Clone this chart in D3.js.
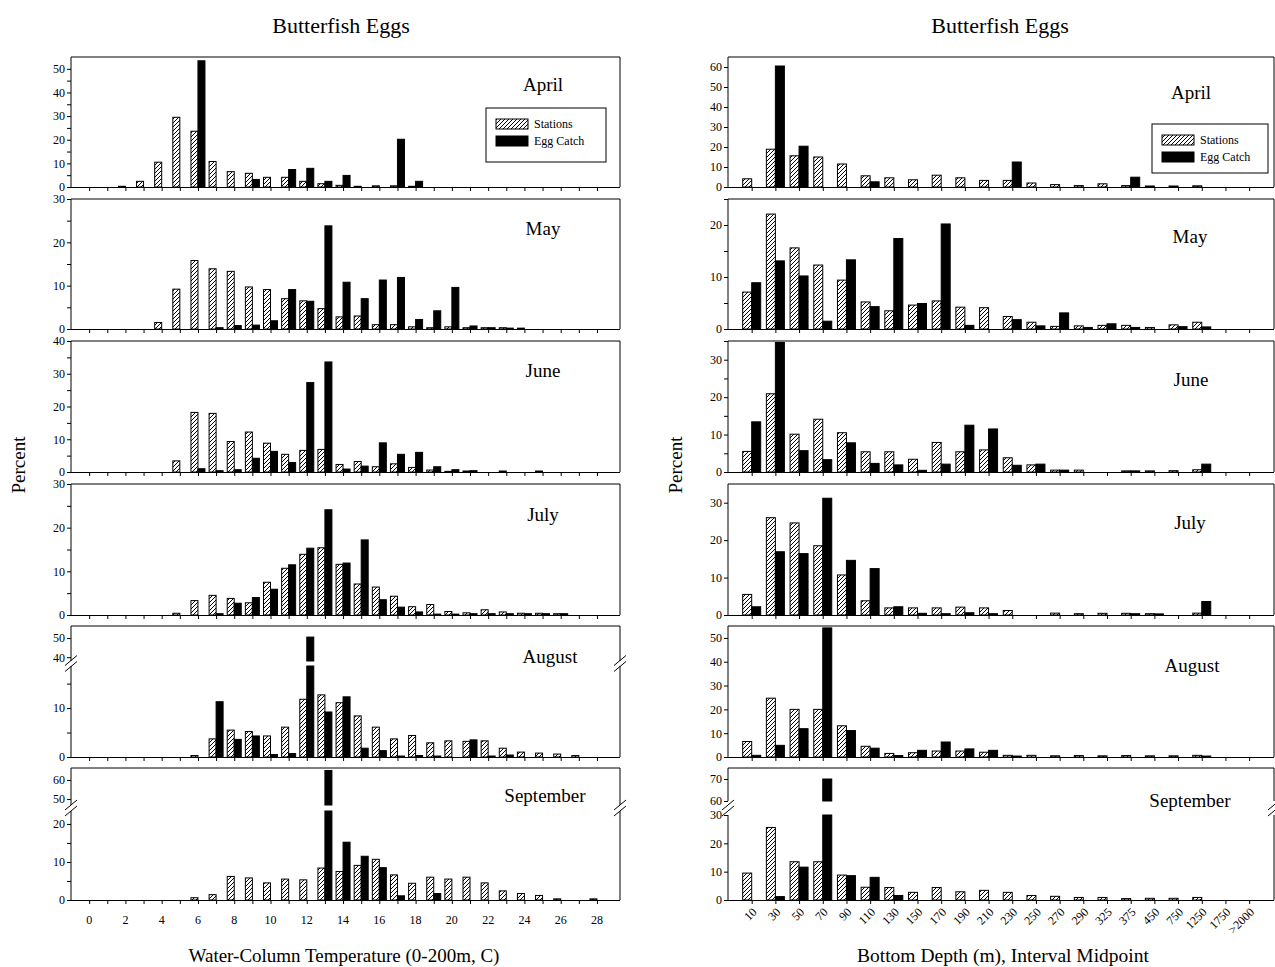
<!DOCTYPE html>
<html>
<head>
<meta charset="utf-8">
<script src="https://cdn.jsdelivr.net/npm/d3@7"></script>
<style>
body { margin: 0; background: #fff; }
text { font-family: "Liberation Serif", "Times New Roman", serif; fill: #000; }
</style>
</head>
<body>
<svg id="chart" width="1275" height="967"></svg>
<script>
// temperature bins 0..28 C
const temps = d3.range(0, 29);
const tempTickLabels = [0, 2, 4, 6, 8, 10, 12, 14, 16, 18, 20, 22, 24, 26, 28];
// bottom depth interval midpoints
const depths = ["10","30","50","70","90","110","130","150","170","190","210","230","250","270","290","325","375","450","750","1250","1750",">2000"];
const months = ["April", "May", "June", "July", "August", "September"];

// percent of stations / egg catch by temperature
const aprTempStations = [0,0,0.3,2.4,10.5,29.5,23.6,10.8,6.5,5.8,4.1,4.1,2.4,1.4,0.7,0.3,0.5,0.5,0.3,0,0,0,0,0,0,0,0,0,0];
const aprTempEggs     = [0,0,0,0,0,0,53.4,0,0,3.2,0,7.4,7.9,2.4,4.9,0,0,20.2,2.4,0,0,0,0,0,0,0,0,0,0];
const mayTempStations = [0,0,0,0,1.5,9.2,15.8,13.9,13.3,9.7,9.1,7.0,6.5,4.7,2.8,3.0,1.0,1.0,0.5,0.3,0.5,0.3,0.3,0.3,0.2,0,0,0,0];
const mayTempEggs     = [0,0,0,0,0,0,0,0.3,0.8,0.9,1.9,9.1,6.4,23.8,10.8,7.0,11.3,11.9,2.2,4.2,9.6,0.7,0.3,0.2,0,0,0,0,0];
const junTempStations = [0,0,0,0,0,3.4,18.2,17.9,9.3,12.2,8.8,5.4,6.6,6.9,2.3,3.2,1.6,2.5,1.4,0.6,0.2,0.3,0,0.3,0,0.3,0,0,0];
const junTempEggs     = [0,0,0,0,0,0,1.0,0.4,0.7,4.2,6.3,2.9,27.3,33.6,0.9,1.8,8.9,5.4,6.0,1.6,0.7,0.4,0,0,0,0,0,0,0];
const julTempStations = [0,0,0,0,0,0.4,3.3,4.5,3.8,2.8,7.5,10.7,13.9,15.4,11.6,7.1,6.4,4.3,1.9,2.4,0.8,0.5,1.2,0.7,0.4,0.4,0.3,0,0];
const julTempEggs     = [0,0,0,0,0,0,0,0.3,2.7,4.0,5.9,11.5,15.3,24.1,11.9,17.2,3.5,1.8,0.7,0.2,0.2,0.3,0.3,0.3,0.3,0.3,0.3,0,0];
const augTempStations = [0,0,0,0,0,0,0.3,3.7,5.5,5.2,4.3,6.1,11.8,12.7,11.1,8.4,6.1,3.7,4.4,2.9,3.3,3.2,3.3,1.8,1.0,0.8,0.6,0.3,0];
const augTempEggs     = [0,0,0,0,0,0,0,11.3,3.6,4.3,0.5,0.7,50.5,9.2,12.3,1.8,1.3,0.2,0.3,0.2,0,3.5,0.2,0.4,0,0,0,0,0];
const sepTempStations = [0,0,0,0,0,0,0.6,1.4,6.2,5.8,4.5,5.5,5.3,8.4,7.5,9.1,10.7,6.6,4.4,6.0,5.5,6.0,4.5,2.4,1.7,1.2,0.3,0,0.3];
const sepTempEggs     = [0,0,0,0,0,0,0,0,0,0,0,0,0,65,15.2,11.5,8.5,1.1,0,1.7,0,0,0,0,0,0,0,0,0];

// percent of stations / egg catch by bottom depth
const aprDepthStations = [4.1,18.9,15.6,15.0,11.5,5.6,4.6,3.6,5.9,4.6,3.3,3.3,2.0,1.2,0.7,1.6,0.7,0.5,0.5,0.6,0,0];
const aprDepthEggs     = [0,60.5,20.4,0,0,2.6,0,0,0,0,0,12.5,0,0,0,0,4.9,0,0,0,0,0];
const mayDepthStations = [7.1,22.1,15.6,12.3,9.4,5.2,3.5,4.6,5.4,4.2,4.1,2.4,1.3,0.5,0.6,0.7,0.7,0.3,0.8,1.3,0,0];
const mayDepthEggs     = [8.9,13.1,10.2,1.5,13.3,4.3,17.4,4.9,20.2,0.7,0,1.8,0.6,3.1,0.3,1.0,0.3,0,0.45,0.4,0,0];
const junDepthStations = [5.5,20.9,10.1,14.1,10.5,5.4,5.4,3.4,7.9,5.4,5.9,3.8,1.9,0.5,0.5,0,0.3,0.3,0.35,0.6,0,0];
const junDepthEggs     = [13.4,34.6,5.7,3.3,7.8,2.3,1.9,0.45,2.1,12.5,11.5,1.8,2.1,0.5,0,0,0.3,0,0,2.1,0,0];
const julDepthStations = [5.5,26.0,24.6,18.5,10.7,3.8,1.9,1.9,1.9,2.1,1.9,1.2,0,0.5,0.35,0.45,0.45,0.35,0,0.5,0,0];
const julDepthEggs     = [2.2,16.9,16.4,31.2,14.6,12.4,2.2,0.45,0.35,0.6,0.35,0,0,0,0,0,0.35,0.3,0,3.6,0,0];
const augDepthStations = [6.5,24.7,20.0,20.0,13.1,4.5,1.5,1.8,2.5,2.5,2.0,0.7,0.7,0.5,0.6,0.5,0.6,0.5,0.5,0.7,0,0];
const augDepthEggs     = [0.7,4.9,11.9,54.2,11.1,3.7,0.6,2.8,6.3,3.4,2.8,0.4,0,0,0,0,0,0,0,0.4,0,0];
const sepDepthStations = [9.5,25.6,13.5,13.5,8.8,4.5,4.4,2.7,4.4,2.9,3.4,2.7,1.6,1.3,0.9,0.9,0.5,0.6,0.6,0.9,0,0];
const sepDepthEggs     = [0,1.2,11.6,70,8.6,8.0,1.6,0,0,0,0,0,0,0,0,0,0,0,0,0,0,0];

const tempStations = [aprTempStations, mayTempStations, junTempStations, julTempStations, augTempStations, sepTempStations];
const tempEggs = [aprTempEggs, mayTempEggs, junTempEggs, julTempEggs, augTempEggs, sepTempEggs];
const depthStations = [aprDepthStations, mayDepthStations, junDepthStations, julDepthStations, augDepthStations, sepDepthStations];
const depthEggs = [aprDepthEggs, mayDepthEggs, junDepthEggs, julDepthEggs, augDepthEggs, sepDepthEggs];

const svg = d3.select("#chart");

const defs = svg.append("defs");
defs.append("pattern")
    .attr("id", "hatch")
    .attr("patternUnits", "userSpaceOnUse")
    .attr("width", 4).attr("height", 4)
  .append("path")
    .attr("d", "M-1,1 l2,-2 M0,4 l4,-4 M3,5 l2,-2")
    .attr("stroke", "#000")
    .attr("stroke-width", 1);

// panel rows: top of frame and zero line
const rows = [
  {top: 57, base: 187}, {top: 199, base: 329}, {top: 341, base: 472},
  {top: 484, base: 615}, {top: 626, base: 757}, {top: 768, base: 900}
];

const step = (a, b, s) => d3.range(a, b + 0.001, s);

// y axis segments (lower first); broken axes get two
const leftAxes = [
  [{d: [0, 55], r: [187, 57], ticks: step(0, 50, 5), labels: step(0, 50, 10)}],
  [{d: [0, 30], r: [329, 199], ticks: step(0, 30, 5), labels: step(0, 30, 10)}],
  [{d: [0, 40], r: [472, 341], ticks: step(0, 40, 5), labels: step(0, 40, 10)}],
  [{d: [0, 30], r: [615, 484], ticks: step(0, 30, 5), labels: step(0, 30, 10)}],
  [{d: [0, 18.6], r: [757, 666], ticks: step(0, 15, 5), labels: [0, 10]},
   {d: [38, 56.3], r: [661, 626], ticks: [40, 50], labels: [40, 50]}],
  [{d: [0, 23.4], r: [900, 811], ticks: step(0, 20, 5), labels: [0, 10, 20]},
   {d: [46.8, 66.3], r: [805, 768], ticks: [50, 60], labels: [50, 60]}]
];
const rightAxes = [
  [{d: [0, 65], r: [187, 57], ticks: step(0, 60, 10), labels: step(0, 60, 10)}],
  [{d: [0, 25], r: [329, 199], ticks: step(0, 25, 5), labels: step(0, 20, 10)}],
  [{d: [0, 35], r: [472, 341], ticks: step(0, 35, 5), labels: step(0, 30, 10)}],
  [{d: [0, 35], r: [615, 484], ticks: step(0, 30, 10), labels: step(0, 30, 10)}],
  [{d: [0, 55], r: [757, 626], ticks: step(0, 50, 10), labels: step(0, 50, 10)}],
  [{d: [0, 30], r: [900, 815], ticks: step(0, 30, 10), labels: step(0, 30, 10)},
   {d: [60, 75], r: [801, 768], ticks: [60, 70], labels: [60, 70]}]
];

const xLeft = d3.scaleLinear().domain([-1, 29.27]).range([71, 620]);
const xRight = d3.scaleLinear().domain([-1, 22.05]).range([728, 1274]);

const monthPosLeft = [[543, 84], [543, 228], [543, 370], [543, 514], [550, 656], [545, 795]];
const monthPosRight = [[1191, 92], [1190, 236], [1191, 379], [1190, 522], [1192, 665], [1190, 800]];

function drawPanel(row, x, cats, segs, stations, eggs, barW, month, mpos) {
  const g = svg.append("g");
  const x0 = x.range()[0], x1 = x.range()[1];
  segs.forEach(s => { s.y = d3.scaleLinear().domain(s.d).range(s.r); });

  // bars: stations left of the tick, egg catch right of it
  cats.forEach((c, i) => {
    [[stations[i], "url(#hatch)", x(i) - barW], [eggs[i], "#000", x(i)]].forEach(([v, fill, bx]) => {
      if (!v) return;
      segs.forEach(s => {
        if (v <= s.d[0]) return;
        const yTop = s.y(Math.min(v, s.d[1]));
        const yBot = s.y(s.d[0]);
        g.append("rect")
          .attr("x", bx).attr("y", yTop)
          .attr("width", barW).attr("height", Math.max(yBot - yTop, 0.8))
          .attr("fill", fill)
          .attr("stroke", "#000").attr("stroke-width", 1);
      });
    });
  });

  // frame: top + side edges
  g.append("line").attr("x1", x0).attr("x2", x1).attr("y1", row.top).attr("y2", row.top)
    .attr("stroke", "#000").attr("stroke-width", 1);
  segs.forEach(s => {
    [x0, x1].forEach(xx => {
      g.append("line").attr("x1", xx).attr("x2", xx).attr("y1", s.r[0]).attr("y2", s.r[1])
        .attr("stroke", "#000").attr("stroke-width", 1);
    });
    const ax = d3.axisLeft(s.y).tickValues(s.ticks).tickSize(4)
      .tickFormat(d => s.labels.includes(d) ? d : "");
    const ag = g.append("g").attr("transform", `translate(${x0},0)`).call(ax);
    ag.select(".domain").remove();
    ag.selectAll("text").style("font-family", "Liberation Serif, serif").style("font-size", "12px").attr("x", -6);
  });

  // break marks
  if (segs.length > 1) {
    const yb = (segs[0].r[1] + segs[1].r[0]) / 2;
    [x0, x1].forEach(xx => {
      [-3, 3].forEach(off => {
        g.append("line")
          .attr("x1", xx - 6).attr("x2", xx + 6)
          .attr("y1", yb + off + 5).attr("y2", yb + off - 5)
          .attr("stroke", "#000").attr("stroke-width", 1);
      });
    });
  }

  // x axis at zero
  const xa = d3.axisBottom(x).tickValues(cats.map((c, i) => i)).tickSize(4).tickFormat("");
  const xg = g.append("g").attr("transform", `translate(0,${row.base})`).call(xa);
  xg.select(".domain").attr("d", `M${x0},0.5H${x1}`);

  g.append("text").attr("x", mpos[0]).attr("y", mpos[1])
    .attr("text-anchor", "middle").attr("dominant-baseline", "central")
    .style("font-size", "19px").text(month);
  return g;
}

months.forEach((m, k) => {
  drawPanel(rows[k], xLeft, temps, leftAxes[k], tempStations[k], tempEggs[k], 7, m, monthPosLeft[k]);
  drawPanel(rows[k], xRight, depths, rightAxes[k], depthStations[k], depthEggs[k], 9, m, monthPosRight[k]);
});

// x tick labels, bottom panels
const lastBase = rows[5].base;
svg.append("g").selectAll("text").data(tempTickLabels).join("text")
  .attr("x", d => xLeft(d)).attr("y", lastBase + 20)
  .attr("text-anchor", "middle").attr("dominant-baseline", "central")
  .style("font-size", "12px").text(d => d);
svg.append("g").selectAll("text").data(depths).join("text")
  .attr("transform", (d, i) => `translate(${xRight(i) + 3},${lastBase + 10}) rotate(-45)`)
  .attr("text-anchor", "end").attr("dominant-baseline", "central")
  .style("font-size", "12px").text(d => d);

// titles
[[341, "Butterfish Eggs"], [1000, "Butterfish Eggs"]].forEach(([cx, t]) => {
  svg.append("text").attr("x", cx).attr("y", 25).attr("text-anchor", "middle")
    .attr("dominant-baseline", "central").style("font-size", "22px").text(t);
});
svg.append("text").attr("x", 344).attr("y", 955).attr("text-anchor", "middle")
  .attr("dominant-baseline", "central").style("font-size", "19px").text("Water-Column Temperature (0-200m, C)");
svg.append("text").attr("x", 1003).attr("y", 955).attr("text-anchor", "middle")
  .attr("dominant-baseline", "central").style("font-size", "19.5px").text("Bottom Depth (m), Interval Midpoint");
[18, 675].forEach(px => {
  svg.append("text").attr("transform", `translate(${px},465) rotate(-90)`)
    .attr("text-anchor", "middle").attr("dominant-baseline", "central")
    .style("font-size", "19px").text("Percent");
});

// legends
function legend(bx, by, bw, bh) {
  const g = svg.append("g");
  g.append("rect").attr("x", bx).attr("y", by).attr("width", bw).attr("height", bh)
    .attr("fill", "#fff").attr("stroke", "#000").attr("stroke-width", 1);
  [["Stations", "url(#hatch)"], ["Egg Catch", "#000"]].forEach(([t, f], i) => {
    const yy = by + 16 + i * 17;
    g.append("rect").attr("x", bx + 10).attr("y", yy - 5).attr("width", 32).attr("height", 10)
      .attr("fill", f).attr("stroke", "#000").attr("stroke-width", 1);
    g.append("text").attr("x", bx + 48).attr("y", yy).attr("dominant-baseline", "central")
      .style("font-size", "12px").text(t);
  });
}
legend(486, 108, 120, 54);
legend(1152, 124, 116, 49);
</script>
</body>
</html>
